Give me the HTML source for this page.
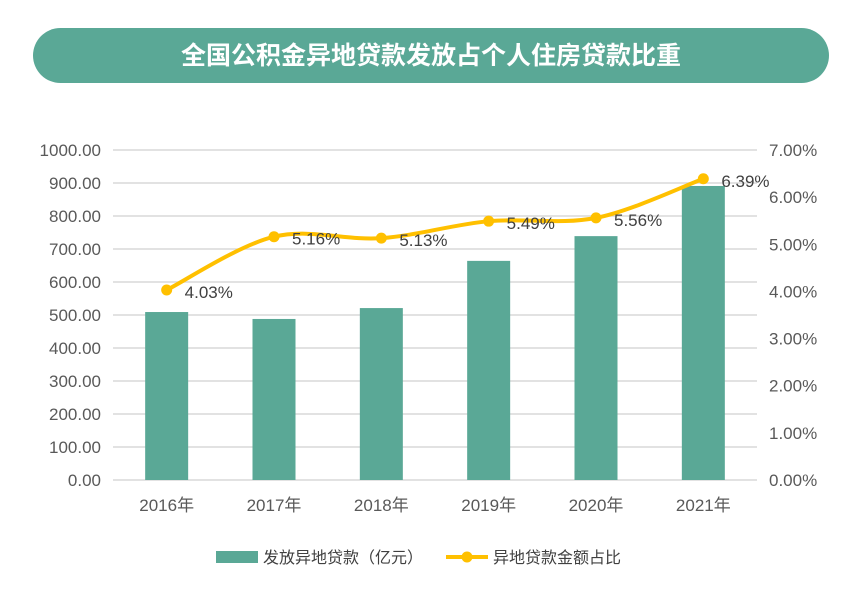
<!DOCTYPE html>
<html><head><meta charset="utf-8"><style>
body{margin:0;background:#fff;width:843px;height:589px;overflow:hidden;font-family:"Liberation Sans","Noto Sans CJK SC",sans-serif}
</style></head><body>
<svg width="843" height="589" xmlns="http://www.w3.org/2000/svg" font-family="Liberation Sans, Noto Sans CJK SC, sans-serif">
<rect x="33" y="28" width="796" height="55" rx="27.5" fill="#5aa896"/>
<text x="431" y="64" text-anchor="middle" font-size="25" font-weight="bold" fill="#fff">全国公积金异地贷款发放占个人住房贷款比重</text>
<g id="grid"></g><g id="bars"></g><g id="line"></g><g id="labels"></g>
<g>
<rect x="216" y="551" width="42" height="12" fill="#5aa896"/>
<text x="263" y="563" font-size="16" fill="#404040">发放异地贷款（亿元）</text>
<line x1="446" y1="557" x2="488" y2="557" stroke="#ffc000" stroke-width="4"/>
<circle cx="467" cy="557" r="5.5" fill="#ffc000"/>
<text x="493" y="563" font-size="16" fill="#404040">异地贷款金额占比</text>
</g>
</svg>
<script>
const categories=["2016年","2017年","2018年","2019年","2020年","2021年"];
const loanValues=[509,488,521,664,739,891];
const shareValues=[4.03,5.16,5.13,5.49,5.56,6.39];
const leftTicks=[0,100,200,300,400,500,600,700,800,900,1000];
const rightTicks=[0,1,2,3,4,5,6,7];
const NS="http://www.w3.org/2000/svg";
const x0=113,x1=757,yB=480,yT=150;
const bw=(x1-x0)/categories.length;
const xC=i=>x0+bw*(i+0.5);
const yL=v=>yB-(v/1000)*(yB-yT);
const yR=v=>yB-(v/7)*(yB-yT);
function mk(t,a,p,txt){const e=document.createElementNS(NS,t);for(const k in a)e.setAttribute(k,a[k]);if(txt!==undefined)e.textContent=txt;p.appendChild(e);return e;}
const g=document.getElementById('grid');
leftTicks.forEach(v=>{
 const l=mk('line',{x1:x0,x2:x1,y1:yL(v),y2:yL(v),stroke:'#d9d9d9','stroke-width':1.5},g);
 
 
 const t=mk('text',{x:101,y:yL(v)+6,'text-anchor':'end','font-size':17,fill:'#595959'},g,v.toFixed(2));
 
 
});
rightTicks.forEach(v=>{
 const t=mk('text',{x:769,y:yR(v)+6,'font-size':17,fill:'#595959'},g,v.toFixed(2)+'%');
 
 
});
categories.forEach((c,i)=>{
 const t=mk('text',{x:xC(i),y:511,'text-anchor':'middle','font-size':17,fill:'#595959'},g,c);
 
 
});
const b=document.getElementById('bars');
loanValues.forEach((v,i)=>{
 const r=mk('rect',{x:xC(i)-21.5,y:yL(v),width:43,height:yB-yL(v),fill:'#5aa896'},b);
 
 
});
const pts=shareValues.map((v,i)=>[xC(i),yR(v)]);
let d=`M${pts[0][0]},${pts[0][1]}`;
for(let i=0;i<pts.length-1;i++){
 const p0=pts[i-1]||pts[i],p1=pts[i],p2=pts[i+1],p3=pts[i+2]||p2,k=6;
 d+=` C${p1[0]+(p2[0]-p0[0])/k},${p1[1]+(p2[1]-p0[1])/k} ${p2[0]-(p3[0]-p1[0])/k},${p2[1]-(p3[1]-p1[1])/k} ${p2[0]},${p2[1]}`;
}
const ln=document.getElementById('line');
const path=mk('path',{d:d,fill:'none',stroke:'#ffc000','stroke-width':4},ln);


const lb=document.getElementById('labels');
pts.forEach((p,i)=>{
 const c=mk('circle',{cx:p[0],cy:p[1],r:5.5,fill:'#ffc000'},ln);
 
 
 const t=mk('text',{x:p[0]+18,y:p[1]+8,'font-size':17,fill:'#404040'},lb,shareValues[i].toFixed(2)+'%');
 
 
});
</script>
</body></html>
